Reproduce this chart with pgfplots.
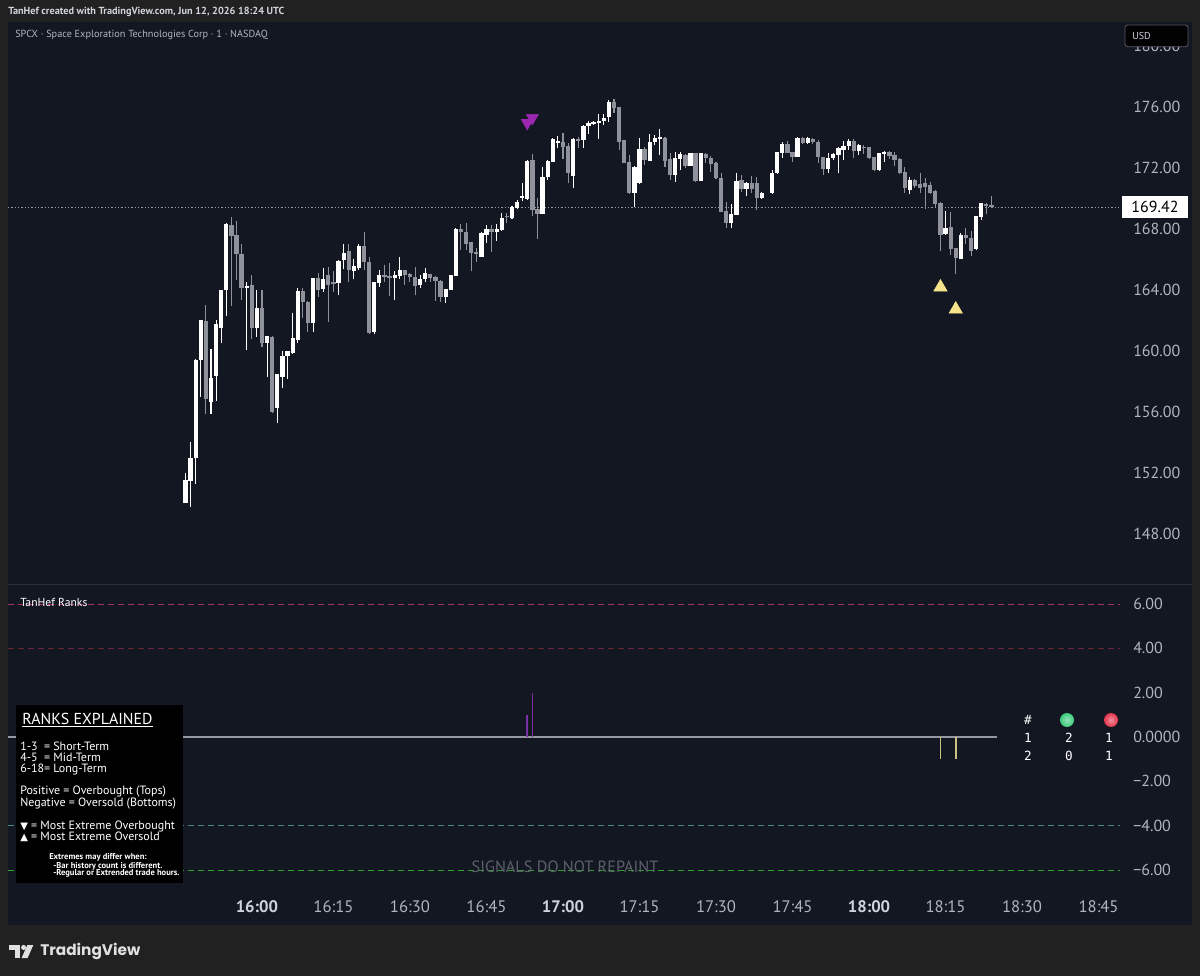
\documentclass[border=0pt]{standalone}
\usepackage{pgfplots}
\pgfplotsset{compat=1.18}
\usepackage{pgfplotstable}
\usepackage{fontspec}
\setmainfont{PT Sans}
\newfontfamily\symfont{DejaVu Sans}
\newfontfamily\monofont{DejaVu Sans Mono}
\newfontfamily\tvfont{Poppins}
\definecolor{outerbg}{HTML}{212121}
\definecolor{chartbg}{HTML}{131722}
\definecolor{ticktxt}{HTML}{B2B5BE}
\definecolor{brighttxt}{HTML}{D1D4DC}
\definecolor{upc}{HTML}{FFFFFF}
\definecolor{downc}{HTML}{8F929B}
\definecolor{purp}{HTML}{9C27B0}
\definecolor{purpbar}{HTML}{7B2FA6}
\definecolor{yel}{HTML}{F5E38C}
\definecolor{yelbar}{HTML}{C9C283}
\definecolor{sepline}{HTML}{2A2E39}
\definecolor{hlsix}{HTML}{A8325A}
\definecolor{hlfour}{HTML}{6E2538}
\definecolor{hlmfour}{HTML}{45868A}
\definecolor{hlmsix}{HTML}{2FA02F}
\definecolor{zeroline}{HTML}{9598A1}
\definecolor{watermark}{HTML}{5D606B}
\definecolor{greenball}{HTML}{3DCB7C}
\definecolor{redball}{HTML}{E5344C}
\newcommand{\fs}[1]{\fontsize{#1}{#1}\selectfont}
\pgfplotsset{candle/.style={only marks, mark=*, mark size=0pt, mark options={draw=none, fill=none}, forget plot,
  error bars/.cd, y dir=both, y explicit, error mark=none}}

\pgfplotstableread{
t o h l c
-14 150.03 152.0 150.0 151.54
-13 151.5 154.0 149.8 153.0
-12 153.0 159.5 151.3 159.4
-11 159.4 162.0 157.0 162.0
-10 161.97 163.0 155.87 156.83
-9 156.68 160.1 155.85 158.21
-8 158.38 162.0 156.7 161.77
-7 161.5 164.0 160.5 164.0
-6 164.0 168.4 162.3 168.33
-5 168.26 168.77 162.95 167.54
-4 167.6 168.5 164.66 166.34
-3 166.36 167.0 163.34 164.11
-2 164.13 164.5 160.07 164.26
-1 164.33 164.98 160.77 161.49
0 161.49 164.0 160.94 162.84
1 162.84 164.0 160.28 160.5
2 160.5 161.0 158.3 160.98
3 160.94 160.98 155.95 156.02
4 156.24 158.5 155.26 158.47
5 158.3 160.02 157.56 159.67
6 159.67 160.0 158.16 160.0
7 159.85 162.51 159.8 160.83
8 160.72 164.1 160.5 163.95
9 163.95 164.11 162.14 163.23
10 163.23 163.25 161.26 161.86
11 161.86 164.8 161.26 164.77
12 164.77 165.13 163.56 164.0
13 164.05 165.42 163.89 164.7
14 164.98 165.53 161.92 164.33
15 164.5 165.27 163.89 164.4
16 164.43 165.97 163.67 165.92
17 165.97 167.02 165.36 166.45
18 166.56 167.02 164.54 165.31
19 165.25 166.01 164.7 165.57
20 165.42 167.02 165.31 166.89
21 166.89 167.82 165.31 165.86
22 165.86 166.18 161.09 161.16
23 161.26 164.54 161.12 164.54
24 164.43 165.31 164.18 164.98
25 164.98 165.64 164.54 164.83
26 164.92 165.79 163.6 164.84
27 164.81 165.27 163.34 164.98
28 164.92 166.14 164.7 165.31
29 165.31 165.33 164.33 164.98
30 165.05 165.09 164.54 164.87
31 164.87 165.53 163.67 164.26
32 164.33 164.98 164.11 164.7
33 164.7 165.42 164.54 165.13
34 165.03 165.05 164.54 164.77
35 164.87 164.9 163.3 164.61
36 164.61 164.63 163.23 163.56
37 163.56 164.06 163.13 164.04
38 164.0 165.0 163.98 164.98
39 164.94 168.05 164.9 168.0
40 167.98 168.33 166.62 167.82
41 167.78 168.37 166.62 167.0
42 167.13 167.15 165.25 166.41
43 166.51 166.74 165.86 166.34
44 166.18 167.82 166.14 167.72
45 167.61 168.26 167.1 168.0
46 167.98 168.26 166.51 167.78
47 167.78 168.33 167.21 167.98
48 167.93 169.03 167.89 168.7
49 168.87 169.03 168.37 168.77
50 168.7 169.5 168.66 169.46
51 169.36 169.9 169.3 169.79
52 170.0 171.0 169.8 170.14
53 169.95 172.5 169.9 172.48
54 172.52 172.92 168.85 169.25
55 169.29 170.0 167.32 168.98
56 168.98 172.09 168.95 171.43
57 171.39 172.5 171.21 172.48
58 172.41 173.99 172.4 173.88
59 173.7 174.1 173.3 173.75
60 173.72 174.3 172.6 173.35
61 173.44 173.62 171.0 171.65
62 171.48 173.95 170.67 173.88
63 173.9 174.05 173.29 173.77
64 173.84 174.82 173.29 174.75
65 174.75 175.1 174.23 174.93
66 174.87 175.05 174.8 175.0
67 174.97 175.54 173.88 175.1
68 175.1 175.54 174.82 175.26
69 175.32 176.46 175.04 176.31
70 176.35 176.5 175.59 175.91
71 175.98 176.0 173.18 173.72
72 173.84 173.86 172.3 172.35
73 172.38 172.85 170.3 170.34
74 170.34 172.1 169.46 172.09
75 171.0 173.95 170.98 173.23
76 173.23 173.4 172.2 172.52
77 172.48 174.23 172.45 173.72
78 173.72 174.16 173.51 173.99
79 173.9 174.54 172.85 174.02
80 173.99 174.02 172.05 172.48
81 172.57 173.0 171.21 171.54
82 171.54 173.03 171.1 172.64
83 172.57 173.07 171.87 172.92
84 172.85 172.9 171.98 172.13
85 172.13 173.0 172.1 172.96
86 172.96 173.0 171.1 171.17
87 171.17 173.0 171.15 172.96
88 172.9 172.95 172.31 172.64
89 172.68 172.79 171.76 172.26
90 172.35 172.37 171.28 171.32
91 171.32 171.65 169.1 169.13
92 169.2 169.79 168.05 168.37
93 168.42 169.64 168.05 168.98
94 168.92 171.65 168.9 171.17
95 171.21 171.54 170.45 170.6
96 170.6 171.1 170.16 171.04
97 171.0 171.48 170.34 170.6
98 171.0 171.39 169.25 170.01
99 170.01 170.4 169.95 170.38
101 170.34 171.87 170.3 171.65
102 171.65 173.07 171.6 173.03
103 172.97 173.72 172.64 173.55
104 173.55 173.75 172.95 172.97
105 173.03 173.05 172.41 172.74
106 172.74 174.05 172.7 173.99
107 173.95 174.0 173.55 173.62
108 173.62 174.0 173.55 173.95
109 173.9 173.95 173.6 173.7
110 173.72 173.8 172.31 172.74
111 172.7 172.75 171.54 171.92
112 171.92 172.96 171.69 172.64
113 172.64 173.0 172.55 172.92
114 172.85 173.4 171.69 173.29
115 173.18 173.79 172.52 173.44
116 173.44 173.88 173.18 173.79
117 173.79 173.88 172.64 173.14
118 173.14 173.58 172.85 173.51
119 173.38 173.5 172.9 173.32
120 173.36 173.4 172.6 172.64
121 172.7 172.72 171.8 171.87
122 171.87 172.98 171.8 172.96
123 172.9 173.14 172.41 173.03
124 173.03 173.14 172.6 172.79
125 172.85 173.03 172.13 172.52
126 172.57 172.62 171.6 171.65
127 171.76 172.09 170.34 170.67
128 170.56 171.39 170.3 171.21
129 171.21 171.25 170.67 170.82
130 170.93 171.69 170.38 170.71
131 171.0 171.32 169.29 170.77
132 170.89 171.1 170.3 170.38
133 170.49 170.55 169.42 169.64
134 169.72 169.79 166.58 167.61
135 167.68 169.2 167.6 168.09
136 168.12 169.14 166.3 166.67
137 166.74 166.76 165.05 166.08
138 166.01 167.72 166.0 167.61
139 167.61 168.05 167.02 167.39
140 167.39 167.89 166.23 166.58
141 166.67 168.85 166.6 168.85
142 168.81 169.69 168.59 169.69
143 169.62 169.72 168.98 169.51
144 169.57 170.16 169.36 169.42
}\candles

\begin{document}
\begin{tikzpicture}
\useasboundingbox (0,0) rectangle (900pt,732pt);
\fill[outerbg] (0,0) rectangle (900pt,732pt);
\fill[chartbg] (6pt,38.25pt) rectangle (894pt,715.5pt);
\draw[sepline, line width=0.75pt] (6pt,293.8pt) -- (894pt,293.8pt);

% ---------- main price pane ----------
\begin{axis}[
  at={(6pt,294pt)}, anchor=south west, scale only axis,
  width=834pt, height=421.5pt,
  xmin=-48.8, xmax=169.2, ymin=144.72, ymax=181.57,
  axis line style={draw=none}, major tick length=0pt,
  xtick=\empty,
  ytick={148,152,156,160,164,168,172,176,180},
  yticklabels={148.00,152.00,156.00,160.00,164.00,168.00,172.00,176.00,180.00},
  yticklabel pos=right,
  yticklabel style={anchor=west, inner sep=0pt, xshift=9.75pt, text=ticktxt, font=\fs{12pt}},
]
% price line
\addplot[zeroline, line width=0.6pt, dash pattern=on 0.9pt off 1.6pt, forget plot] coordinates {(-48.8,169.42) (169.2,169.42)};
% down wicks and bodies
\addplot[candle, error bar style={line width=0.8pt, draw=downc, solid}]
  table[x=t, y expr={\thisrow{c}<\thisrow{o} ? (\thisrow{h}+\thisrow{l})/2 : nan}, y error expr={(\thisrow{h}-\thisrow{l})/2}] {\candles};
\addplot[candle, error bar style={line width=3.2pt, draw=downc, solid}]
  table[x=t, y expr={\thisrow{c}<\thisrow{o} ? (\thisrow{o}+\thisrow{c})/2 : nan}, y error expr={max(abs(\thisrow{c}-\thisrow{o})/2,0.035)}] {\candles};
% up wicks and bodies
\addplot[candle, error bar style={line width=0.8pt, draw=upc, solid}]
  table[x=t, y expr={\thisrow{c}>=\thisrow{o} ? (\thisrow{h}+\thisrow{l})/2 : nan}, y error expr={(\thisrow{h}-\thisrow{l})/2}] {\candles};
\addplot[candle, error bar style={line width=3.2pt, draw=upc, solid}]
  table[x=t, y expr={\thisrow{c}>=\thisrow{o} ? (\thisrow{o}+\thisrow{c})/2 : nan}, y error expr={max(abs(\thisrow{c}-\thisrow{o})/2,0.035)}] {\candles};
% extreme markers
\addplot[purp, only marks, mark=triangle*, mark size=5.2pt, mark options={rotate=180, fill=purp, draw=none}] coordinates {(53,174.95) (54,175.28)};
\addplot[yel, only marks, mark=triangle*, mark size=5.8pt, mark options={fill=yel, draw=none}] coordinates {(134,164.18) (137,162.73)};
\end{axis}

% ---------- ranks pane ----------
\begin{axis}[
  at={(6pt,64.5pt)}, anchor=south west, scale only axis,
  width=834pt, height=228.75pt,
  xmin=-48.8, xmax=169.2, ymin=-6.90, ymax=6.86,
  axis line style={draw=none}, major tick length=0pt,
  xtick={0,15,30,45,60,75,90,105,120,135,150,165},
  xticklabels={{\bfseries\color{brighttxt}16:00},16:15,16:30,16:45,{\bfseries\color{brighttxt}17:00},17:15,17:30,17:45,{\bfseries\color{brighttxt}18:00},18:15,18:30,18:45},
  xticklabel style={anchor=center, yshift=-12.75pt, text=ticktxt, font=\fs{12.5pt}},
  ytick={-6,-4,-2,0,2,4,6},
  yticklabels={−6.00,−4.00,−2.00,0.0000,2.00,4.00,6.00},
  yticklabel pos=right,
  yticklabel style={anchor=west, inner sep=0pt, xshift=9.75pt, text=ticktxt, font=\fs{12pt}},
]
\addplot[hlsix, line width=0.75pt, dash pattern=on 4.5pt off 3pt, forget plot] coordinates {(-48.8,6) (169.2,6)};
\addplot[hlfour, line width=0.75pt, dash pattern=on 4.5pt off 3pt, forget plot] coordinates {(-48.8,4) (169.2,4)};
\addplot[hlmfour, line width=0.75pt, dash pattern=on 4.5pt off 3pt, forget plot] coordinates {(-48.8,-4) (169.2,-4)};
\addplot[hlmsix, line width=0.75pt, dash pattern=on 4.5pt off 3pt, forget plot] coordinates {(-48.8,-6) (169.2,-6)};
\addplot[zeroline, line width=1.1pt, forget plot] coordinates {(-48.8,0) (145.1,0)};
\addplot[ycomb, purpbar, line width=1.2pt, mark=none] coordinates {(53,1) (54,2)};
\addplot[ycomb, yelbar, line width=1.2pt, mark=none] coordinates {(134,-1) (137,-1)};
\end{axis}

% ---------- header ----------
\node[anchor=west, inner sep=0pt, text=brighttxt, font=\fs{7.7pt}\bfseries] at (6pt,723pt) {TanHef created with TradingView.com, Jun 12, 2026 18:24 UTC};
\node[anchor=west, inner sep=0pt, text=ticktxt, font=\fs{7.7pt}] at (11.25pt,705.75pt) {SPCX · Space Exploration Technologies Corp · 1 · NASDAQ};
% USD box (covers the upper part of the 180.00 label)
\filldraw[fill=black!92!chartbg, draw=sepline!80!white, rounded corners=2pt, line width=0.6pt] (843.75pt,713.25pt) rectangle (891pt,697pt);
\node[anchor=west, inner sep=0pt, text=brighttxt, font=\fs{7.5pt}] at (849pt,705.3pt) {USD};
% last price label
\fill[white] (841.5pt,585pt) rectangle (891pt,568.5pt);
\node[anchor=center, inner sep=0pt, text=black, font=\fs{12pt}] at (866.25pt,576.8pt) {169.42};

% ---------- ranks pane overlays ----------
\node[anchor=west, inner sep=0pt, text=white, font=\fs{8.7pt}] at (15pt,280.5pt) {TanHef Ranks};
\fill[black] (12pt,203.25pt) rectangle (137.25pt,69.75pt);
\begin{scope}[every node/.style={anchor=west, inner sep=0pt, text=white}]
\node[font=\fs{11.9pt}] at (16.5pt,192pt) {\underline{RANKS EXPLAINED}};
\node[font=\fs{9pt}] at (15pt,172.5pt) {1-3\ \ = Short-Term};
\node[font=\fs{9pt}] at (15pt,163.7pt) {4-5\ \ = Mid-Term};
\node[font=\fs{9pt}] at (15pt,155pt) {6-18= Long-Term};
\node[font=\fs{9pt}] at (15pt,138.2pt) {Positive = Overbought (Tops)};
\node[font=\fs{9pt}] at (15pt,129pt) {Negative = Oversold (Bottoms)};
\node[font=\fs{9pt}] at (15pt,112pt) {{\symfont\fs{7.5pt}▼} = Most Extreme Overbought};
\node[font=\fs{9pt}] at (15pt,104pt) {{\symfont\fs{7.5pt}▲} = Most Extreme Oversold};
\node[font=\fs{6.4pt}\bfseries] at (36.75pt,88.7pt) {Extremes may differ when:};
\node[font=\fs{6.4pt}\bfseries] at (39.75pt,82.5pt) {-Bar history count is different.};
\node[font=\fs{6.4pt}\bfseries] at (39.75pt,76.7pt) {-Regular or Extrended trade hours.};
\end{scope}
\node[anchor=center, inner sep=0pt, text=watermark, font=\fs{12.2pt}] at (423.75pt,81.75pt) {SIGNALS DO NOT REPAINT};
% status table
\begin{scope}[every node/.style={anchor=center, inner sep=0pt, text=white, font=\monofont\fs{9.5pt}}]
\node at (771pt,192pt) {\#};
\shade[inner color=greenball!55!white, outer color=greenball] (800.25pt,192pt) circle (5.25pt);
\shade[inner color=redball!55!white, outer color=redball] (833.25pt,192pt) circle (5.25pt);
\node at (771pt,178.5pt) {1};
\node at (801.75pt,178.5pt) {2};
\node at (831.75pt,178.5pt) {1};
\node at (771pt,165pt) {2};
\node at (801.75pt,165pt) {0};
\node at (831.75pt,165pt) {1};
\end{scope}

% ---------- footer logo ----------
\begin{scope}[fill=white!88!black]
\fill (7pt,23.25pt) rectangle (15pt,19.5pt);
\fill (11.25pt,23.25pt) rectangle (15pt,13.5pt);
\fill (17.7pt,21.4pt) circle (1.9pt);
\fill (20.5pt,23.25pt) -- (25pt,23.25pt) -- (20.7pt,13.5pt) -- (16.2pt,13.5pt) -- cycle;
\end{scope}
\node[anchor=west, inner sep=0pt, text=white!88!black, font=\tvfont\bfseries\fs{11.5pt}] at (30pt,18.75pt) {TradingView};
\end{tikzpicture}
\end{document}
